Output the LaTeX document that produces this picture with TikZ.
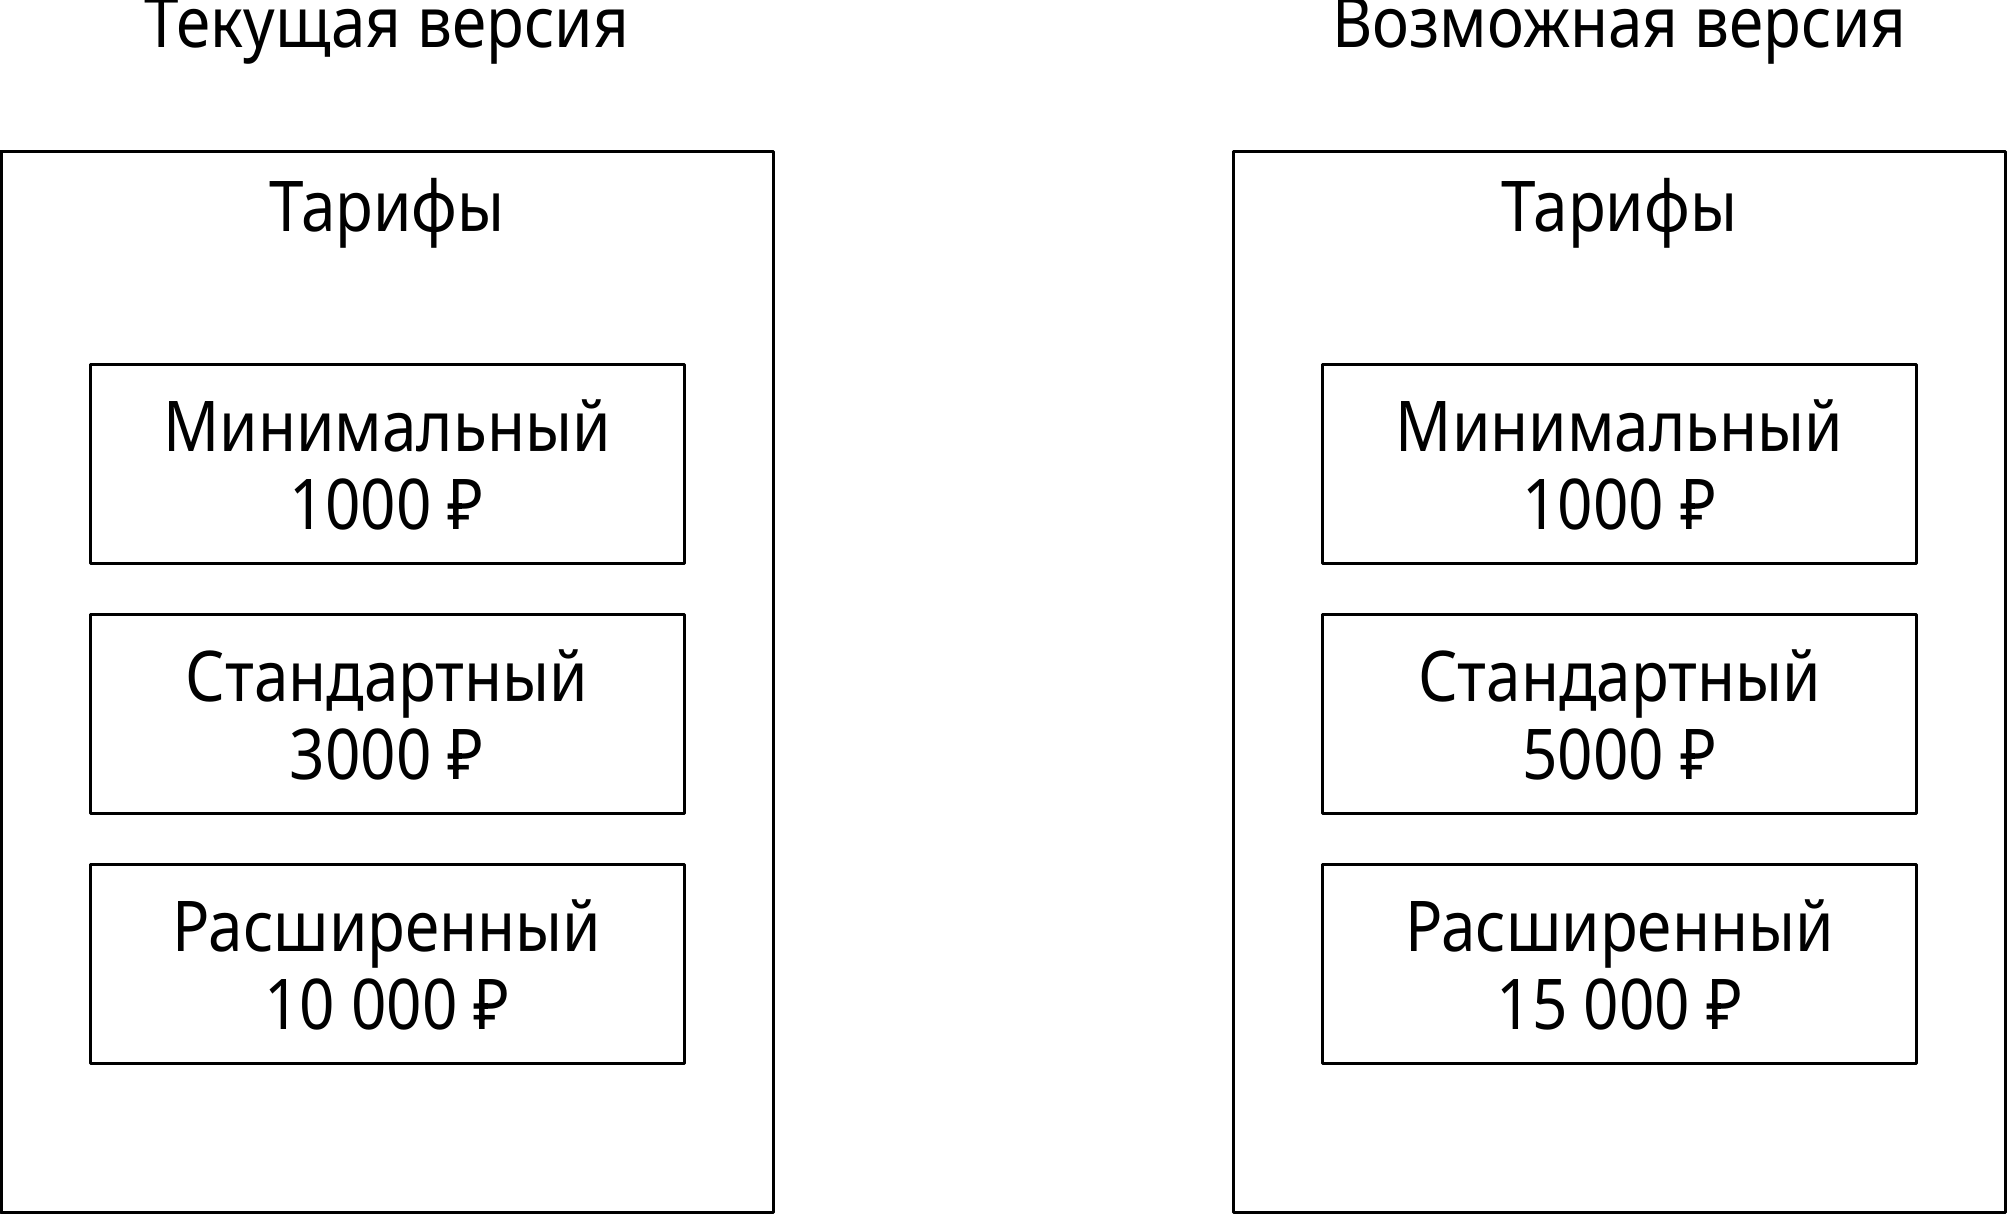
\documentclass[tikz,border=0pt]{standalone}
\usepackage{fontspec}
\setmainfont[FakeStretch=0.886]{Noto Sans}
\begin{document}
\begin{tikzpicture}[x=0.5pt, y=-0.5pt, line join=round, font=\fontsize{35pt}{39pt}\selectfont,
		frame/.style={draw, rectangle, line width=1.5pt, inner sep=0pt, minimum width=386pt, minimum height=530.5pt},
		tarif/.style={draw, rectangle, line width=1.5pt, inner sep=0pt, minimum width=297pt, minimum height=99.5pt},
		txt/.style={anchor=base, inner sep=0pt}]
			\useasboundingbox (0,0) rectangle (2007,1215);
			\def\xl{387}
			\def\xr{1619.5}
			\def\ra{463.5}
			\def\rb{713.5}
			\def\rc{963.5}
			
			% titles
			\node[txt] (Ttl) at (\xl,47) {Текущая версия};
			\node[txt] (Ttr) at (\xr,47) {Возможная версия};
			
			% outer frames
			\node[frame] (FL) at (\xl,681.5) {};
			\node[frame] (FR) at (\xr,681.5) {};
			\node[txt] (HL) at (\xl,231) {Тарифы};
			\node[txt] (HR) at (\xr,231) {Тарифы};
			
			% left column
			\node[tarif] (L1) at (\xl,\ra) {};
			\node[tarif] (L2) at (\xl,\rb) {};
			\node[tarif] (L3) at (\xl,\rc) {};
			\node[txt] (L1n) at (\xl,\ra-12.5) {Минимальный};
			\node[txt] (L1p) at (\xl,\ra+65.5) {1000 ₽};
			\node[txt] (L2n) at (\xl,\rb-12.5) {Стандартный};
			\node[txt] (L2p) at (\xl,\rb+65.5) {3000 ₽};
			\node[txt] (L3n) at (\xl,\rc-12.5) {Расширенный};
			\node[txt] (L3p) at (\xl,\rc+65.5) {10 000 ₽};
			
			% right column
			\node[tarif] (R1) at (\xr,\ra) {};
			\node[tarif] (R2) at (\xr,\rb) {};
			\node[tarif] (R3) at (\xr,\rc) {};
			\node[txt] (R1n) at (\xr,\ra-12.5) {Минимальный};
			\node[txt] (R1p) at (\xr,\ra+65.5) {1000 ₽};
			\node[txt] (R2n) at (\xr,\rb-12.5) {Стандартный};
			\node[txt] (R2p) at (\xr,\rb+65.5) {5000 ₽};
			\node[txt] (R3n) at (\xr,\rc-12.5) {Расширенный};
			\node[txt] (R3p) at (\xr,\rc+65.5) {15 000 ₽};
			
		\end{tikzpicture}
\end{document}
